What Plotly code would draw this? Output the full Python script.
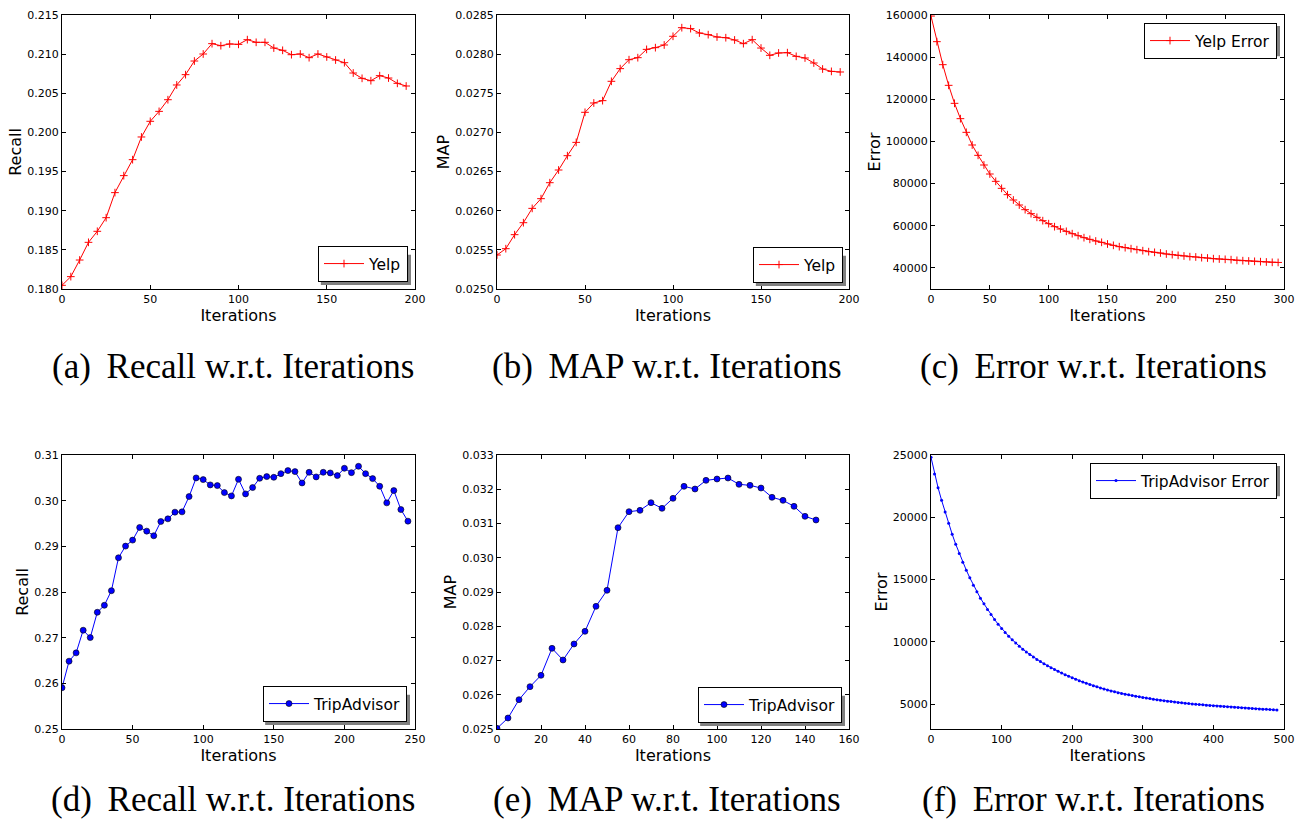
import plotly.graph_objects as go

W, H = 1307, 822

# ---------------- data ----------------
iters_yelp = list(range(0, 200, 5))
recall_yelp = [0.18047, 0.18158, 0.18370, 0.18596, 0.18737, 0.18911, 0.19231, 0.19448,
               0.19652, 0.19942, 0.20142, 0.20269, 0.20418, 0.20606, 0.20738, 0.20912,
               0.21002, 0.21134, 0.21108, 0.21130, 0.21125, 0.21185, 0.21151, 0.21151,
               0.21078, 0.21049, 0.20993, 0.21002, 0.20955, 0.21002, 0.20964, 0.20925,
               0.20891, 0.20759, 0.20691, 0.20661, 0.20725, 0.20695, 0.20627, 0.20593]
map_yelp = [0.025434, 0.025515, 0.025694, 0.025847, 0.026030, 0.026154, 0.026358, 0.026520,
            0.026703, 0.026873, 0.027257, 0.027376, 0.027406, 0.027653, 0.027815, 0.027929,
            0.027955, 0.028061, 0.028083, 0.028117, 0.028228, 0.028338, 0.028326, 0.028270,
            0.028249, 0.028219, 0.028210, 0.028181, 0.028134, 0.028185, 0.028078, 0.027985,
            0.028015, 0.028019, 0.027972, 0.027951, 0.027887, 0.027810, 0.027780, 0.027772]

iters_yelp_err = list(range(0, 300, 5))
error_yelp = [159500, 147348, 136436, 126630, 118090, 110815, 104331, 98321, 93418, 88832,
              84562, 81083, 77762, 74757, 72226, 69854, 67640, 65742, 64002, 62421,
              60998, 59574, 58467, 57360, 56253, 55304, 54355, 53564, 52774, 52141,
              51350, 50718, 50085, 49611, 49136, 48662, 48187, 47713, 47397, 47080,
              46606, 46290, 45973, 45657, 45341, 45183, 44866, 44708, 44392, 44234,
              44075, 43917, 43600, 43442, 43284, 43126, 42968, 42810, 42652, 42600]

iters_trip_recall = list(range(0, 250, 5))
recall_trip = [0.25903, 0.26485, 0.26667, 0.27163, 0.27002, 0.27556, 0.27709, 0.28029,
               0.28750, 0.29005, 0.29136, 0.29413, 0.29333, 0.29231, 0.29544, 0.29602,
               0.29748, 0.29755, 0.30090, 0.30498, 0.30461, 0.30345, 0.30330, 0.30177,
               0.30104, 0.30468, 0.30148, 0.30287, 0.30490, 0.30527, 0.30512, 0.30592,
               0.30658, 0.30636, 0.30388, 0.30621, 0.30520, 0.30621, 0.30607, 0.30549,
               0.30709, 0.30614, 0.30752, 0.30592, 0.30483, 0.30316, 0.29952, 0.30221,
               0.29806, 0.29551]

iters_trip_map = list(range(0, 150, 5))
map_trip = [0.025019, 0.025321, 0.025856, 0.026236, 0.026567, 0.027355, 0.027015, 0.027482,
            0.027852, 0.028582, 0.029049, 0.030878, 0.031345, 0.031384, 0.031608, 0.031443,
            0.031735, 0.032085, 0.032007, 0.032260, 0.032299, 0.032328, 0.032144, 0.032114,
            0.032036, 0.031764, 0.031676, 0.031501, 0.031209, 0.031102]

iters_trip_err = list(range(0, 495, 5))
error_trip = [24813, 23476, 22380, 21365, 20429, 19520, 18638, 17836, 17088, 16393,
              15751, 15136, 14548, 14013, 13506, 13051, 12597, 12196, 11795, 11420,
              11070, 10750, 10450, 10170, 9900, 9650, 9410, 9190, 8980, 8780,
              8590, 8410, 8240, 8080, 7920, 7770, 7630, 7490, 7360, 7230,
              7110, 6990, 6880, 6770, 6670, 6570, 6480, 6390, 6300, 6220,
              6140, 6060, 5990, 5920, 5860, 5800, 5740, 5680, 5630, 5580,
              5530, 5480, 5440, 5390, 5350, 5310, 5270, 5230, 5200, 5160,
              5130, 5100, 5070, 5040, 5010, 4990, 4960, 4940, 4910, 4890,
              4870, 4850, 4830, 4810, 4790, 4770, 4750, 4730, 4710, 4690,
              4670, 4650, 4630, 4610, 4590, 4580, 4560, 4540, 4520]

captions = ["(a)\u2009 Recall w.r.t. Iterations", "(b)\u2009 MAP w.r.t. Iterations",
            "(c)\u2009 Error w.r.t. Iterations", "(d)\u2009 Recall w.r.t. Iterations",
            "(e)\u2009 MAP w.r.t. Iterations", "(f)\u2009 Error w.r.t. Iterations"]

# ---------------- layout helpers ----------------
def px(x):
    return x / W


def py(y):
    return 1 - y / H


RED = "#ff0000"
BLUE = "#0000ff"
FONT = "DejaVu Sans"
LEG_SIZE = 15.5
ITEMW = 40

# approximate DejaVu Sans advance widths (em) for the legend shadow size
DJV = {"Y": .611, "e": .615, "l": .278, "p": .635, " ": .318, "E": .632, "r": .411,
       "o": .612, "T": .611, "i": .278, "A": .684, "d": .635, "v": .592, "s": .521}


def text_w(s, size):
    return sum(DJV.get(c, .6) for c in s) * size


panels = [
    dict(x=iters_yelp, y=recall_yelp, name="Yelp", color=RED, style="plus",
         box=(62, 415, 15, 289), yr=[0.180, 0.215], dy=0.005, fmt=".3f",
         xr=[0, 200], dx=50, ytitle="Recall", leg=("br", 408, 282),
         cap=(233, 366)),
    dict(x=iters_yelp, y=map_yelp, name="Yelp", color=RED, style="plus",
         box=(497, 849, 15, 289), yr=[0.0250, 0.0285], dy=0.0005, fmt=".4f",
         xr=[0, 200], dx=50, ytitle="MAP", leg=("br", 843, 283),
         cap=(667, 366)),
    dict(x=iters_yelp_err, y=error_yelp, name="Yelp Error", color=RED, style="plus",
         box=(931, 1284, 15, 289), yr=[30000, 160000], dy=20000, fmt="d",
         xr=[0, 300], dx=50, ytitle="Error", leg=("tr", 1277, 23),
         cap=(1093, 366), ticks0=40000),
    dict(x=iters_trip_recall, y=recall_trip, name="TripAdvisor", color=BLUE, style="circle",
         box=(62, 415, 455, 729), yr=[0.25, 0.31], dy=0.01, fmt=".2f",
         xr=[0, 250], dx=50, ytitle="Recall", leg=("br", 407, 722),
         cap=(233, 799)),
    dict(x=iters_trip_map, y=map_trip, name="TripAdvisor", color=BLUE, style="circle",
         box=(497, 849, 455, 729), yr=[0.025, 0.033], dy=0.001, fmt=".3f",
         xr=[0, 160], dx=20, ytitle="MAP", leg=("br", 842, 723),
         cap=(667, 799)),
    dict(x=iters_trip_err, y=error_trip, name="TripAdvisor Error", color=BLUE, style="dot",
         box=(931, 1284, 455, 729), yr=[3000, 25000], dy=5000, fmt="d",
         xr=[0, 500], dx=100, ytitle="Error", leg=("tr", 1277, 463),
         cap=(1093, 799), ticks0=5000),
]

fig = go.Figure()
layout = dict(width=W, height=H, margin=dict(l=0, r=0, t=0, b=0, autoexpand=False),
              paper_bgcolor="white", plot_bgcolor="white", showlegend=True,
              font=dict(family=FONT, color="black"))
shapes = []
annotations = []

for i, p in enumerate(panels, start=1):
    sfx = "" if i == 1 else str(i)
    if p["style"] == "plus":
        marker = dict(symbol="cross-thin", size=5.5, color=p["color"],
                      line=dict(color=p["color"], width=1))
    elif p["style"] == "circle":
        marker = dict(symbol="circle", size=6, color=p["color"],
                      line=dict(color="black", width=0.6))
    else:
        marker = dict(symbol="circle", size=3, color=p["color"], line=dict(width=0))
    leg_name = "legend" + sfx
    fig.add_trace(go.Scatter(x=p["x"], y=p["y"], mode="lines+markers", name=p["name"],
                             line=dict(color=p["color"], width=1), marker=marker,
                             xaxis="x" + sfx, yaxis="y" + sfx, legend=leg_name,
                             showlegend=True))
    x0, x1, y0, y1 = p["box"]
    ax_common = dict(showline=True, linecolor="black", linewidth=1, mirror="ticks",
                     ticks="inside", ticklen=4, tickwidth=1, tickcolor="black",
                     showgrid=False, zeroline=False, automargin=False,
                     tickfont=dict(family=FONT, size=11, color="black"))
    layout["xaxis" + sfx] = dict(ax_common, domain=[px(x0), px(x1)], range=p["xr"],
                                 anchor="y" + sfx, tick0=0, dtick=p["dx"],
                                 title=dict(text="Iterations",
                                            font=dict(family=FONT, size=16, color="black"),
                                            standoff=2))
    layout["yaxis" + sfx] = dict(ax_common, domain=[py(y1), py(y0)], range=p["yr"],
                                 anchor="x" + sfx, tick0=p.get("ticks0", p["yr"][0]),
                                 dtick=p["dy"], tickformat=p["fmt"],
                                 title=dict(text=p["ytitle"],
                                            font=dict(family=FONT, size=16, color="black"),
                                            standoff=1))
    corner, lx, ly = p["leg"]
    lw = text_w(p["name"], LEG_SIZE) + ITEMW + 17
    lh = LEG_SIZE * 1.3 + 3 + 5 + 2
    if corner == "br":
        layout[leg_name] = dict(x=px(lx), y=py(ly), xanchor="right", yanchor="bottom",
                                xref="paper", yref="paper")
        bx0, bx1, by0, by1 = lx - lw, lx, ly - lh, ly
    else:
        layout[leg_name] = dict(x=px(lx), y=py(ly), xanchor="right", yanchor="top",
                                xref="paper", yref="paper")
        bx0, bx1, by0, by1 = lx - lw, lx, ly, ly + lh
    layout[leg_name].update(bgcolor="white", bordercolor="black", borderwidth=1,
                            font=dict(family=FONT, size=LEG_SIZE, color="black"),
                            itemwidth=ITEMW)
    shapes.append(dict(type="rect", xref="paper", yref="paper", layer="above",
                       x0=px(bx0 + 3), x1=px(bx1 + 3), y0=py(by1 + 3), y1=py(by0 + 3),
                       fillcolor="#808080", line=dict(width=0)))
    cx, cy = p["cap"]
    annotations.append(dict(text=captions[i - 1], x=px(cx), y=py(cy), xref="paper",
                            yref="paper", showarrow=False, xanchor="center",
                            yanchor="middle",
                            font=dict(family="Liberation Serif", size=35, color="black")))

layout["shapes"] = shapes
layout["annotations"] = annotations
fig.update_layout(**layout)
fig.write_html("out.html")
